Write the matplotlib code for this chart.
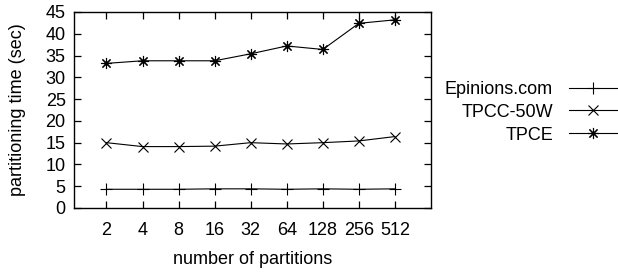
import matplotlib
matplotlib.use('Agg')
import matplotlib.pyplot as plt
from matplotlib.ticker import MultipleLocator

partitions = ['2', '4', '8', '16', '32', '64', '128', '256', '512']
epinions = [4.3, 4.3, 4.3, 4.4, 4.4, 4.3, 4.4, 4.3, 4.4]
tpcc_50w = [15.0, 14.1, 14.1, 14.2, 15.0, 14.7, 15.0, 15.4, 16.4]
tpce = [33.2, 33.8, 33.8, 33.8, 35.4, 37.2, 36.4, 42.4, 43.2]

plt.rcParams['font.family'] = ['Liberation Sans', 'DejaVu Sans']
plt.rcParams['font.size'] = 13

fig = plt.figure(figsize=(6.18, 2.72), dpi=100)
ax = fig.add_axes([74 / 618, 64 / 272, 357 / 618, 196 / 272])

x = range(1, len(partitions) + 1)
# gnuplot style point types: plus, cross, asterisk
ax.plot(x, epinions, color='black', lw=0.8, marker='+', ms=8, mew=0.8, label='Epinions.com')
ax.plot(x, tpcc_50w, color='black', lw=0.8, marker='x', ms=7, mew=0.8, label='TPCC-50W')
ax.plot(x, tpce, color='black', lw=0.8, marker=(8, 2, 0), ms=8, mew=0.8, label='TPCE')
ax.plot(x, tpce, color='black', lw=0, marker='o', ms=2)

ax.set_xlim(0.1, 10)
ax.set_ylim(0, 45)
ax.set_xticks(list(x))
ax.set_xticklabels(partitions)
ax.yaxis.set_major_locator(MultipleLocator(5))
ax.tick_params(direction='in', length=5, width=0.9, top=True, right=True, pad=6)
ax.tick_params(axis='x', pad=10)
for s in ax.spines.values():
    s.set_linewidth(1.0)

ax.set_ylabel('partitioning time (sec)', labelpad=14)
ax.set_xlabel('number of partitions', labelpad=8.5)

ax.legend(loc='upper right', bbox_to_anchor=(617 / 618, 191 / 272), bbox_transform=fig.transFigure,
          frameon=False, markerfirst=False, numpoints=1, handlelength=2.65, handletextpad=0.9,
          labelspacing=0.32, borderpad=0, borderaxespad=0)

fig.savefig('out.png', dpi=100)
